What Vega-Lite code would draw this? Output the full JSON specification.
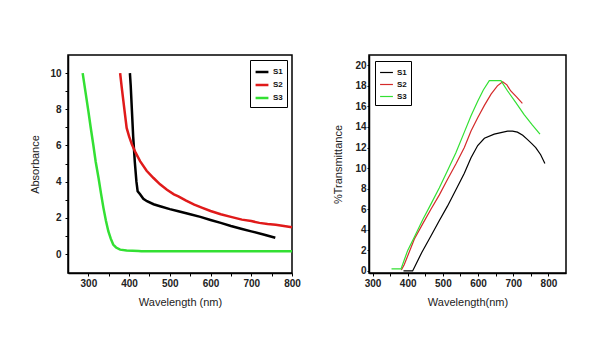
{
  "$schema": "https://vega.github.io/schema/vega-lite/v6.json",
  "background": "white",
  "padding": {"left": 29, "top": 54, "right": 5, "bottom": 5},
  "spacing": 30,
  "config": {
    "font": "Liberation Sans",
    "view": {"stroke": "black", "strokeWidth": 1.5},
    "axis": {
      "grid": false,
      "domainColor": "black",
      "domainWidth": 1.5,
      "tickColor": "black",
      "tickSize": 3,
      "labelFont": "Liberation Sans",
      "labelFontSize": 10,
      "labelFontWeight": "bold",
      "labelColor": "#222222",
      "labelFlush": false,
      "labelOverlap": false,
      "titleFont": "Liberation Sans",
      "titleFontSize": 11,
      "titleFontWeight": "normal",
      "titleColor": "#222222"
    },
    "legend": {
      "strokeColor": "black",
      "fillColor": "white",
      "padding": 4,
      "symbolType": "stroke",
      "symbolSize": 165,
      "rowPadding": 0,
      "labelFontSize": 8,
      "labelFontWeight": "bold",
      "labelColor": "#111111",
      "labelOffset": 3,
      "title": null
    }
  },
  "datasets": {
    "abs": [
      {"wl": 402, "v": 10, "s": "S1"}, {"wl": 404, "v": 9.3, "s": "S1"}, {"wl": 407, "v": 7.9, "s": "S1"}, {"wl": 410, "v": 6.5, "s": "S1"}, {"wl": 414, "v": 5.1, "s": "S1"}, {"wl": 418, "v": 4.0, "s": "S1"}, {"wl": 421, "v": 3.47, "s": "S1"}, {"wl": 427, "v": 3.3, "s": "S1"}, {"wl": 435, "v": 3.05, "s": "S1"}, {"wl": 444, "v": 2.92, "s": "S1"}, {"wl": 460, "v": 2.75, "s": "S1"}, {"wl": 476, "v": 2.64, "s": "S1"}, {"wl": 500, "v": 2.48, "s": "S1"}, {"wl": 521, "v": 2.36, "s": "S1"}, {"wl": 550, "v": 2.2, "s": "S1"}, {"wl": 575, "v": 2.05, "s": "S1"}, {"wl": 600, "v": 1.88, "s": "S1"}, {"wl": 625, "v": 1.72, "s": "S1"}, {"wl": 650, "v": 1.55, "s": "S1"}, {"wl": 675, "v": 1.4, "s": "S1"}, {"wl": 700, "v": 1.25, "s": "S1"}, {"wl": 730, "v": 1.08, "s": "S1"}, {"wl": 759, "v": 0.9, "s": "S1"},
      {"wl": 378, "v": 10, "s": "S2"}, {"wl": 382, "v": 9.2, "s": "S2"}, {"wl": 386, "v": 8.45, "s": "S2"}, {"wl": 390, "v": 7.7, "s": "S2"}, {"wl": 394, "v": 6.97, "s": "S2"}, {"wl": 400, "v": 6.5, "s": "S2"}, {"wl": 407, "v": 6.05, "s": "S2"}, {"wl": 416, "v": 5.6, "s": "S2"}, {"wl": 427, "v": 5.13, "s": "S2"}, {"wl": 443, "v": 4.6, "s": "S2"}, {"wl": 460, "v": 4.2, "s": "S2"}, {"wl": 476, "v": 3.85, "s": "S2"}, {"wl": 493, "v": 3.55, "s": "S2"}, {"wl": 510, "v": 3.3, "s": "S2"}, {"wl": 521, "v": 3.19, "s": "S2"}, {"wl": 540, "v": 2.95, "s": "S2"}, {"wl": 560, "v": 2.73, "s": "S2"}, {"wl": 580, "v": 2.55, "s": "S2"}, {"wl": 600, "v": 2.38, "s": "S2"}, {"wl": 625, "v": 2.2, "s": "S2"}, {"wl": 650, "v": 2.05, "s": "S2"}, {"wl": 677, "v": 1.9, "s": "S2"}, {"wl": 700, "v": 1.82, "s": "S2"}, {"wl": 720, "v": 1.72, "s": "S2"}, {"wl": 740, "v": 1.66, "s": "S2"}, {"wl": 760, "v": 1.62, "s": "S2"}, {"wl": 780, "v": 1.55, "s": "S2"}, {"wl": 800, "v": 1.48, "s": "S2"},
      {"wl": 286, "v": 10, "s": "S3"}, {"wl": 293, "v": 8.95, "s": "S3"}, {"wl": 300, "v": 7.9, "s": "S3"}, {"wl": 306, "v": 6.95, "s": "S3"}, {"wl": 312, "v": 6.05, "s": "S3"}, {"wl": 318, "v": 5.1, "s": "S3"}, {"wl": 325, "v": 4.2, "s": "S3"}, {"wl": 331, "v": 3.35, "s": "S3"}, {"wl": 337, "v": 2.55, "s": "S3"}, {"wl": 343, "v": 1.85, "s": "S3"}, {"wl": 349, "v": 1.26, "s": "S3"}, {"wl": 355, "v": 0.85, "s": "S3"}, {"wl": 361, "v": 0.52, "s": "S3"}, {"wl": 368, "v": 0.36, "s": "S3"}, {"wl": 378, "v": 0.24, "s": "S3"}, {"wl": 394, "v": 0.19, "s": "S3"}, {"wl": 423, "v": 0.17, "s": "S3"}, {"wl": 430, "v": 0.15, "s": "S3"}, {"wl": 800, "v": 0.15, "s": "S3"}
    ],
    "tr": [
      {"wl": 388, "v": 0, "s": "S1"}, {"wl": 414, "v": 0, "s": "S1"}, {"wl": 420, "v": 0.4, "s": "S1"}, {"wl": 440, "v": 1.8, "s": "S1"}, {"wl": 466, "v": 3.4, "s": "S1"}, {"wl": 490, "v": 4.9, "s": "S1"}, {"wl": 513, "v": 6.3, "s": "S1"}, {"wl": 540, "v": 8.1, "s": "S1"}, {"wl": 561, "v": 9.5, "s": "S1"}, {"wl": 580, "v": 11.0, "s": "S1"}, {"wl": 599, "v": 12.2, "s": "S1"}, {"wl": 618, "v": 12.9, "s": "S1"}, {"wl": 646, "v": 13.3, "s": "S1"}, {"wl": 665, "v": 13.45, "s": "S1"}, {"wl": 684, "v": 13.6, "s": "S1"}, {"wl": 698, "v": 13.6, "s": "S1"}, {"wl": 712, "v": 13.5, "s": "S1"}, {"wl": 727, "v": 13.2, "s": "S1"}, {"wl": 740, "v": 12.8, "s": "S1"}, {"wl": 752, "v": 12.4, "s": "S1"}, {"wl": 764, "v": 12.0, "s": "S1"}, {"wl": 778, "v": 11.3, "s": "S1"}, {"wl": 790, "v": 10.45, "s": "S1"},
      {"wl": 382, "v": 0.1, "s": "S2"}, {"wl": 390, "v": 0.6, "s": "S2"}, {"wl": 419, "v": 3.1, "s": "S2"}, {"wl": 443, "v": 4.6, "s": "S2"}, {"wl": 466, "v": 6.0, "s": "S2"}, {"wl": 490, "v": 7.4, "s": "S2"}, {"wl": 513, "v": 8.9, "s": "S2"}, {"wl": 537, "v": 10.4, "s": "S2"}, {"wl": 561, "v": 12.0, "s": "S2"}, {"wl": 580, "v": 13.6, "s": "S2"}, {"wl": 599, "v": 14.9, "s": "S2"}, {"wl": 618, "v": 16.1, "s": "S2"}, {"wl": 637, "v": 17.2, "s": "S2"}, {"wl": 655, "v": 18.0, "s": "S2"}, {"wl": 670, "v": 18.4, "s": "S2"}, {"wl": 682, "v": 18.1, "s": "S2"}, {"wl": 693, "v": 17.5, "s": "S2"}, {"wl": 710, "v": 16.9, "s": "S2"}, {"wl": 726, "v": 16.3, "s": "S2"},
      {"wl": 354, "v": 0.2, "s": "S3"}, {"wl": 381, "v": 0.2, "s": "S3"}, {"wl": 400, "v": 2.0, "s": "S3"}, {"wl": 419, "v": 3.3, "s": "S3"}, {"wl": 443, "v": 5.0, "s": "S3"}, {"wl": 466, "v": 6.5, "s": "S3"}, {"wl": 490, "v": 8.1, "s": "S3"}, {"wl": 513, "v": 9.75, "s": "S3"}, {"wl": 537, "v": 11.5, "s": "S3"}, {"wl": 561, "v": 13.5, "s": "S3"}, {"wl": 580, "v": 15.1, "s": "S3"}, {"wl": 599, "v": 16.5, "s": "S3"}, {"wl": 615, "v": 17.6, "s": "S3"}, {"wl": 632, "v": 18.5, "s": "S3"}, {"wl": 665, "v": 18.5, "s": "S3"}, {"wl": 684, "v": 17.5, "s": "S3"}, {"wl": 707, "v": 16.4, "s": "S3"}, {"wl": 731, "v": 15.2, "s": "S3"}, {"wl": 754, "v": 14.2, "s": "S3"}, {"wl": 776, "v": 13.3, "s": "S3"}
    ]
  },
  "resolve": {"legend": {"color": "independent"}, "scale": {"color": "independent"}},
  "hconcat": [
    {
      "width": 224,
      "height": 218,
      "data": {"name": "abs"},
      "mark": {"type": "line", "strokeWidth": 2.5},
      "encoding": {
        "x": {"field": "wl", "type": "quantitative", "scale": {"domain": [250, 800], "nice": false, "zero": false},
              "axis": {"title": "Wavelength (nm)", "values": [300, 350, 400, 450, 500, 550, 600, 650, 700, 750, 800], "labelExpr": "datum.value % 100 == 0 ? datum.label : ''", "labelPadding": 2, "titlePadding": 8}},
        "y": {"field": "v", "type": "quantitative", "scale": {"domain": [-1.05, 11], "nice": false, "zero": false},
              "axis": {"title": "Absorbance", "values": [0, 1, 2, 3, 4, 5, 6, 7, 8, 9, 10], "labelExpr": "datum.value % 2 == 0 ? datum.label : ''", "labelPadding": 4, "titlePadding": 9}},
        "color": {"field": "s", "type": "nominal", "scale": {"domain": ["S1", "S2", "S3"], "range": ["#000000", "#e01a1a", "#33e033"]},
                  "legend": {"orient": "top-right", "offset": 5, "symbolStrokeWidth": 2.5}},
        "order": {"field": "wl", "type": "quantitative"}
      }
    },
    {
      "width": 197,
      "height": 218,
      "data": {"name": "tr"},
      "mark": {"type": "line", "strokeWidth": 1.2},
      "encoding": {
        "x": {"field": "wl", "type": "quantitative", "scale": {"domain": [290, 850], "nice": false, "zero": false},
              "axis": {"title": "Wavelength(nm)", "values": [300, 350, 400, 450, 500, 550, 600, 650, 700, 750, 800], "labelExpr": "datum.value % 100 == 0 ? datum.label : ''", "labelPadding": 2, "titlePadding": 8}},
        "y": {"field": "v", "type": "quantitative", "scale": {"domain": [-0.2, 21], "nice": false, "zero": false},
              "axis": {"title": "%Transmittance", "values": [0, 2, 4, 6, 8, 10, 12, 14, 16, 18, 20], "tickSize": 2, "labelPadding": 1, "titlePadding": 11}},
        "color": {"field": "s", "type": "nominal", "scale": {"domain": ["S1", "S2", "S3"], "range": ["#000000", "#d42a2a", "#33e033"]},
                  "legend": {"orient": "top-left", "offset": 6, "symbolStrokeWidth": 1.2}},
        "order": {"field": "wl", "type": "quantitative"}
      }
    }
  ]
}
